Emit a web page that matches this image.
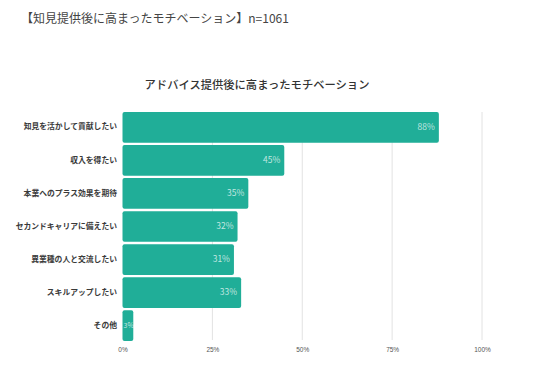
<!DOCTYPE html>
<html>
<head>
<meta charset="utf-8">
<script src="https://cdn.jsdelivr.net/npm/d3@7"></script>
<style>
  body { margin: 0; background: #fff; }
  svg { font-family: "Noto Sans CJK JP", "Noto Sans", sans-serif; }
</style>
</head>
<body>
<div id="chart"></div>
<script>
// Chart data
const categories = [
  "知見を活かして貢献したい",
  "収入を得たい",
  "本業へのプラス効果を期待",
  "セカンドキャリアに備えたい",
  "異業種の人と交流したい",
  "スキルアップしたい",
  "その他",
];
const values = [88, 45, 35, 32, 31, 33, 3];
const tickValues = [0, 25, 50, 75, 100];

const width = 533;
const height = 368;
const margin = { top: 112, right: 51, bottom: 27, left: 122.5 };

const svg = d3
  .select("#chart")
  .append("svg")
  .attr("width", width)
  .attr("height", height);

// Page heading
svg
  .append("text")
  .attr("x", 21)
  .attr("y", 23)
  .style("fill", "#444")
  .style("font-size", "12px")
  .text("【知見提供後に高まったモチベーション】n=1061");

// Chart title
svg
  .append("text")
  .attr("x", 257)
  .attr("y", 89)
  .attr("text-anchor", "middle")
  .style("fill", "#333")
  .style("font-size", "11.3px")
  .style("font-weight", "500")
  .text("アドバイス提供後に高まったモチベーション");

// Scales
const x = d3
  .scaleLinear()
  .domain([0, 100])
  .range([margin.left, width - margin.right]);

const y = d3
  .scaleBand()
  .domain(categories)
  .range([margin.top, height - margin.bottom])
  .paddingInner(0.07)
  .paddingOuter(0.0);

// Gridlines
svg
  .append("g")
  .selectAll("line")
  .data(tickValues.slice(1))
  .enter()
  .append("line")
  .attr("x1", (d) => x(d))
  .attr("x2", (d) => x(d))
  .attr("y1", margin.top)
  .attr("y2", height - margin.bottom - 1)
  .attr("stroke", "#e2e2e2")
  .attr("stroke-width", 1);

// Tick labels
const xAxis = svg
  .append("g")
  .attr("transform", `translate(0, ${height - margin.bottom + 3})`)
  .call(
    d3
      .axisBottom(x)
      .tickValues(tickValues)
      .tickFormat((d) => d + "%")
      .tickSize(0)
  );
xAxis.select(".domain").remove();
xAxis
  .selectAll("text")
  .style("font-size", "6.5px")
  .style("fill", "#555");

// Bars
const rows = categories.map((c, i) => ({ label: c, value: values[i] }));

svg
  .append("g")
  .selectAll("rect")
  .data(rows)
  .enter()
  .append("rect")
  .attr("x", x(0))
  .attr("y", (d) => y(d.label))
  .attr("width", (d) => x(d.value) - x(0))
  .attr("height", y.bandwidth())
  .attr("rx", 2)
  .attr("fill", "#20ae98");

// Value labels inside the bars (small bars: start at the bar's left edge)
svg
  .append("g")
  .selectAll("text")
  .data(rows)
  .enter()
  .append("text")
  .attr("x", (d) => (d.value < 5 ? x(0) + 1 : x(d.value) - 4))
  .attr("y", (d) => y(d.label) + y.bandwidth() / 2)
  .attr("text-anchor", (d) => (d.value < 5 ? "start" : "end"))
  .attr("dominant-baseline", "middle")
  .style("fill", "rgba(255,255,255,0.72)")
  .style("font-size", (d) => (d.value < 5 ? "7px" : "8.5px"))
  .text((d) => d.value + "%");

// Category labels
svg
  .append("g")
  .selectAll("text")
  .data(rows)
  .enter()
  .append("text")
  .attr("x", margin.left - 5.5)
  .attr("y", (d) => y(d.label) + y.bandwidth() / 2)
  .attr("text-anchor", "end")
  .attr("dominant-baseline", "middle")
  .style("fill", "#3a3a3a")
  .style("font-size", "7.8px")
  .style("font-weight", "bold")
  .text((d) => d.label);
</script>
</body>
</html>
